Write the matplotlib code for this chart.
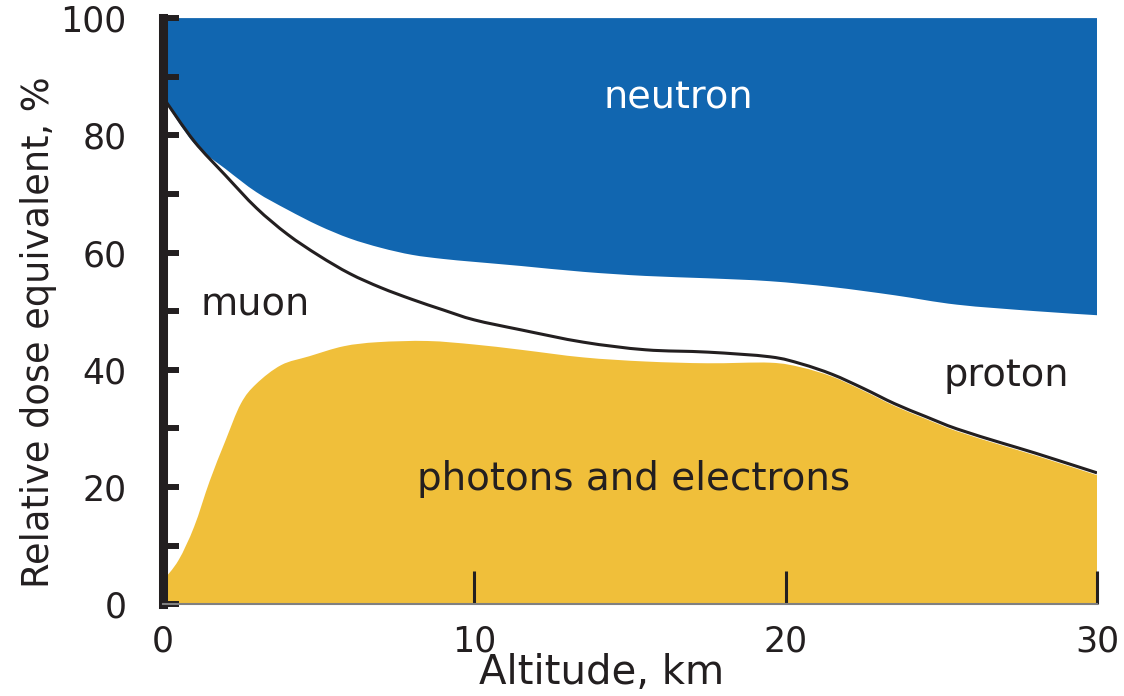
import matplotlib
matplotlib.use('Agg')
import matplotlib.pyplot as plt
import numpy as np
from matplotlib.path import Path
from matplotlib.patches import PathPatch
from matplotlib.ticker import MultipleLocator

# lower edge of the neutron band
x_neutron = [0, 1, 2, 3, 4, 5, 6, 7, 8, 9, 10, 11.5, 13.5, 15.5, 17.5, 19.5, 21.5, 23.5, 25.5, 28, 30]
y_neutron = [86.3, 78.6, 74.3, 70.3, 67.3, 64.6, 62.4, 60.8, 59.6, 58.9, 58.4, 57.7, 56.7, 56.0, 55.6,
             55.1, 54.1, 52.7, 51.1, 50.0, 49.3]

# muon / proton boundary line
x_line = [0, 1, 2, 3, 4, 5, 6, 7, 8, 9, 10, 11.5, 13.5, 15.5, 17.5, 19.5, 20.5, 21.5, 22.5, 23.5,
          24.5, 25.5, 27, 28, 30]
y_line = [86.5, 79.0, 73.2, 67.6, 63.1, 59.5, 56.4, 54.0, 52.0, 50.2, 48.5, 46.8, 44.7, 43.4, 43.0,
          42.2, 41.0, 39.2, 36.8, 34.2, 32.0, 29.9, 27.4, 25.8, 22.4]

# upper edge of photons and electrons
x_photon = [0, 0.5, 1, 1.5, 2, 2.5, 3, 3.8, 4.7, 5.8, 6.9, 8.5, 10, 11.5, 13.5, 15.5, 17.5, 19.5,
            20.5, 21.5, 22.5, 23.5, 24.5, 25.5, 27, 28, 30]
y_photon = [4.0, 7.5, 13.2, 21.0, 27.8, 34.2, 37.6, 40.8, 42.3, 44.0, 44.7, 44.9, 44.3, 43.4, 42.1,
            41.4, 41.1, 41.2, 40.4, 38.8, 36.4, 33.8, 31.6, 29.5, 27.0, 25.4, 22.0]

x_ticks = [0, 10, 20, 30]
y_ticks = [0, 20, 40, 60, 80, 100]

blue = '#1166b0'
yellow = '#f0bf3a'
dark = '#231f20'


def smooth(xs, ys):
    # catmull-rom through the points, as cubic bezier pieces
    p = np.column_stack([xs, ys]).astype(float)
    ext = np.vstack([p[0], p, p[-1]])
    verts = [p[0]]
    for i in range(len(p) - 1):
        p0, p1, p2, p3 = ext[i], ext[i + 1], ext[i + 2], ext[i + 3]
        verts += [p1 + (p2 - p0) / 6, p2 - (p3 - p1) / 6, p2]
    codes = [Path.MOVETO] + [Path.CURVE4] * (len(verts) - 1)
    return verts, codes


fig = plt.figure(figsize=(11.24, 6.96), dpi=100)
ax = fig.add_axes([0.145, 0.132, 0.831, 0.842])

v, c = smooth(x_neutron, y_neutron)
v = [(x_neutron[0], 100)] + v + [(x_neutron[-1], 100), (x_neutron[0], 100)]
c = [Path.MOVETO, Path.LINETO] + c[1:] + [Path.LINETO, Path.CLOSEPOLY]
ax.add_patch(PathPatch(Path(v, c), facecolor=blue, lw=0))

v, c = smooth(x_photon, y_photon)
v = [(x_photon[0], 0)] + v + [(x_photon[-1], 0), (x_photon[0], 0)]
c = [Path.MOVETO, Path.LINETO] + c[1:] + [Path.LINETO, Path.CLOSEPOLY]
ax.add_patch(PathPatch(Path(v, c), facecolor=yellow, lw=0))

v, c = smooth(x_line, y_line)
ax.add_patch(PathPatch(Path(v, c), facecolor='none', edgecolor=dark, lw=2.2))

ax.text(16.55, 84.6, 'neutron', color='white', ha='center', va='baseline', fontsize=27.5)
ax.text(1.19, 49.3, 'muon', color=dark, ha='left', va='baseline', fontsize=27.5)
ax.text(25.06, 37.2, 'proton', color=dark, ha='left', va='baseline', fontsize=27.5)
ax.text(15.1, 19.5, 'photons and electrons', color=dark, ha='center', va='baseline', fontsize=28)

ax.set_xlim(0, 30)
ax.set_ylim(0, 100)
ax.set_xticks(x_ticks)
ax.set_yticks(y_ticks)
ax.yaxis.set_minor_locator(MultipleLocator(10))

for s in ['top', 'right']:
    ax.spines[s].set_visible(False)
ax.spines['left'].set_linewidth(6.5)
ax.spines['left'].set_color(dark)
ax.spines['left'].set_capstyle('projecting')
ax.spines['bottom'].set_linewidth(1.5)
ax.spines['bottom'].set_color('#808080')

ax.tick_params(axis='x', direction='in', length=24, width=2.2, color=dark, pad=15,
               labelsize=25, labelcolor=dark)
ax.tick_params(axis='y', which='both', direction='in', length=11.5, width=4.3, color=dark,
               pad=26, labelsize=25, labelcolor=dark)

ax.set_xlabel('Altitude, km', fontsize=29, color=dark)
ax.xaxis.set_label_coords(0.47, -0.083)
ax.set_ylabel('Relative dose equivalent, %', fontsize=26.5, color=dark)
ax.yaxis.set_label_coords(-0.113, 0.464)

fig.savefig('out.png', dpi=100)
